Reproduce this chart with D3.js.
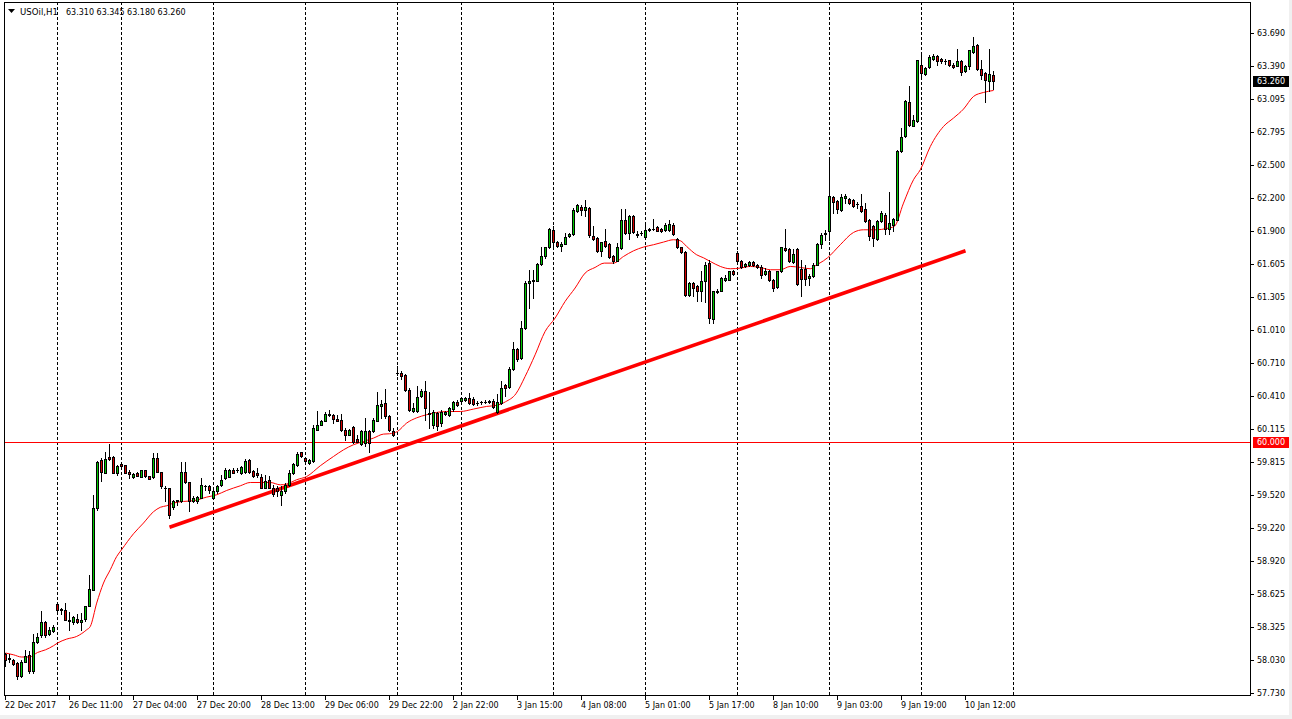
<!DOCTYPE html>
<html><head><meta charset="utf-8">
<script src="https://cdnjs.cloudflare.com/ajax/libs/d3/7.8.5/d3.min.js"></script>
<style>html,body{margin:0;padding:0;background:#fff;overflow:hidden}svg{display:block}</style>
</head><body><svg id="chart" width="1292" height="719"></svg>
<script>
const symbolTitle = "USOil,H1";
const ohlcHeader = ["63.310", "63.345", "63.180", "63.260"];

const open = [58.08,58.05,58.03,58.00,57.88,58.01,58.075,57.93,58.19,58.25,58.37,58.26,58.29,58.53,58.48,58.48,58.39,58.37,58.40,58.37,
58.40,58.52,58.66,59.40,59.83,59.72,59.86,59.857,59.72,59.797,59.785,59.73,59.68,59.72,59.685,59.74,59.692,59.685,59.852,59.725,
59.583,59.58,59.41,59.466,59.46,59.73,59.635,59.463,59.46,59.49,59.595,59.595,59.49,59.55,59.604,59.67,59.685,59.746,59.74,59.716,
59.725,59.836,59.737,59.716,59.685,59.581,59.656,59.581,59.581,59.52,59.55,59.604,59.72,59.79,59.906,59.852,59.806,59.821,60.107,60.152,
60.19,60.243,60.243,60.206,60.195,60.107,60.062,60.131,60.023,59.978,59.987,60.098,60.098,60.19,60.324,60.348,60.227,60.098,60.619,60.619,
60.604,60.462,60.279,60.279,60.408,60.453,60.261,60.152,60.258,60.168,60.252,60.243,60.294,60.354,60.363,60.372,60.393,60.384,60.348,60.354,
60.357,60.363,60.369,60.27,60.348,60.507,60.493,60.658,60.839,60.755,61.025,61.432,61.446,61.453,61.603,61.672,61.753,61.913,61.802,61.771,
61.789,61.853,61.874,62.085,62.118,62.094,62.114,61.853,61.838,61.717,61.814,61.784,61.678,61.633,61.748,62.003,61.883,62.033,61.877,61.883,
61.844,61.91,61.922,61.934,61.919,61.907,61.913,61.958,61.832,61.753,61.712,61.32,61.432,61.401,61.358,61.448,61.615,61.109,61.35,61.362,
61.462,61.462,61.543,61.703,61.633,61.582,61.591,61.621,61.591,61.576,61.513,61.537,61.462,61.392,61.537,61.748,61.739,61.621,61.739,61.56,
61.558,61.477,61.5,61.597,61.784,61.874,61.898,62.208,62.169,62.094,62.199,62.19,62.178,62.148,62.13,62.1,61.997,61.949,61.829,61.988,
62.049,61.919,61.958,62.003,62.62,62.756,63.063,62.852,62.891,63.403,63.319,63.382,63.455,63.484,63.455,63.433,63.442,63.403,63.394,63.439,
63.343,63.394,63.514,63.584,63.364,63.328,63.261,63.31];

const high = [58.09,58.08,58.04,58.01,58.03,58.12,58.11,58.26,58.27,58.47,58.38,58.33,58.34,58.535,58.50,58.54,58.46,58.425,58.44,58.45,
58.52,58.795,59.52,59.821,59.85,59.902,59.981,59.866,59.79,59.806,59.79,59.74,59.72,59.73,59.746,59.746,59.692,59.897,59.897,59.728,
59.601,59.583,59.475,59.475,59.812,59.812,59.638,59.51,59.505,59.67,59.61,59.61,59.565,59.61,59.70,59.76,59.752,59.761,59.761,59.776,
59.843,59.843,59.746,59.761,59.71,59.70,59.692,59.61,59.595,59.595,59.626,59.746,59.806,59.902,59.906,59.86,59.843,60.152,60.279,60.197,
60.267,60.288,60.249,60.243,60.249,60.122,60.116,60.137,60.062,60.107,60.209,60.107,60.213,60.444,60.378,60.475,60.243,60.122,60.685,60.634,
60.61,60.484,60.348,60.498,60.475,60.55,60.45,60.288,60.272,60.288,60.279,60.312,60.363,60.372,60.402,60.399,60.438,60.402,60.363,60.366,
60.372,60.378,60.384,60.428,60.543,60.52,60.67,60.899,60.845,61.091,61.453,61.552,61.552,61.612,61.762,61.762,61.928,61.943,61.814,61.807,
61.883,61.883,62.109,62.145,62.139,62.184,62.123,61.943,61.844,61.807,61.922,61.793,61.687,61.793,62.103,62.103,62.042,62.042,61.904,61.898,
61.974,61.928,62.012,61.943,61.928,61.974,62.003,61.974,61.838,61.762,61.717,61.441,61.441,61.416,61.537,61.624,61.642,61.362,61.38,61.491,
61.507,61.543,61.552,61.717,61.642,61.612,61.627,61.627,61.603,61.591,61.567,61.552,61.471,61.543,61.762,61.922,61.748,61.739,61.748,61.642,
61.597,61.513,61.612,61.793,61.883,61.913,62.545,62.214,62.178,62.238,62.238,62.199,62.19,62.16,62.238,62.154,62.01,61.958,62.003,62.087,
62.064,62.25,62.019,62.629,62.831,63.087,63.213,62.952,63.448,63.514,63.379,63.493,63.502,63.493,63.464,63.455,63.448,63.418,63.548,63.448,
63.403,63.539,63.653,63.593,63.442,63.334,63.545,63.345];

const low = [57.97,58.01,57.985,57.86,57.875,58.01,57.915,57.91,58.18,58.24,58.24,58.25,58.28,58.464,58.44,58.385,58.30,58.35,58.36,58.30,
58.38,58.52,58.66,59.385,59.64,59.72,59.83,59.716,59.70,59.77,59.72,59.67,59.676,59.69,59.685,59.685,59.662,59.667,59.73,59.581,
59.46,59.31,59.394,59.43,59.457,59.626,59.378,59.457,59.45,59.49,59.565,59.54,59.49,59.54,59.601,59.662,59.68,59.716,59.728,59.71,
59.716,59.716,59.685,59.68,59.581,59.581,59.581,59.51,59.51,59.43,59.54,59.595,59.71,59.782,59.86,59.821,59.80,59.812,60.107,60.146,
60.188,60.228,60.168,60.182,60.098,60.017,60.056,59.987,59.996,59.972,59.956,59.906,60.09,60.188,60.215,60.213,60.098,60.047,60.604,60.568,
60.453,60.279,60.272,60.272,60.402,60.197,60.125,60.122,60.107,60.143,60.243,60.228,60.281,60.324,60.354,60.366,60.342,60.333,60.333,60.342,
60.348,60.351,60.303,60.26,60.342,60.408,60.484,60.649,60.724,60.748,61.019,61.206,61.296,61.446,61.597,61.658,61.748,61.762,61.762,61.723,
61.784,61.847,61.868,62.078,62.049,62.033,61.844,61.823,61.712,61.672,61.762,61.658,61.612,61.627,61.742,61.874,61.832,61.883,61.844,61.868,
61.838,61.898,61.913,61.898,61.895,61.898,61.904,61.868,61.748,61.703,61.311,61.311,61.311,61.266,61.272,61.26,61.071,61.071,61.342,61.356,
61.446,61.455,61.507,61.627,61.567,61.573,61.582,61.582,61.567,61.482,61.507,61.453,61.362,61.387,61.531,61.723,61.621,61.612,61.416,61.311,
61.416,61.41,61.491,61.591,61.748,61.817,61.817,62.069,62.064,62.087,62.154,62.148,62.123,62.109,62.078,61.979,61.817,61.769,61.823,61.979,
61.877,61.877,61.898,61.997,62.611,62.75,62.852,62.846,62.886,63.292,63.313,63.373,63.442,63.403,63.418,63.409,63.394,63.373,63.388,63.313,
63.334,63.364,63.509,63.358,63.274,63.063,63.162,63.18];

const close = [58.03,58.04,57.99,57.88,58.01,58.06,57.93,58.19,58.24,58.37,58.25,58.30,58.33,58.48,58.485,58.385,58.38,58.415,58.37,58.39,
58.515,58.67,59.40,59.815,59.73,59.84,59.84,59.716,59.78,59.776,59.72,59.71,59.707,59.694,59.74,59.692,59.665,59.852,59.73,59.595,
59.58,59.34,59.46,59.469,59.73,59.635,59.46,59.49,59.496,59.61,59.597,59.559,59.55,59.60,59.656,59.746,59.746,59.72,59.741,59.767,
59.827,59.725,59.694,59.70,59.581,59.647,59.581,59.529,59.55,59.55,59.604,59.72,59.797,59.888,59.866,59.827,59.836,60.122,60.152,60.188,
60.249,60.245,60.206,60.19,60.101,60.062,60.107,59.996,60.001,60.098,60.092,59.987,60.197,60.333,60.342,60.227,60.107,60.062,60.617,60.595,
60.462,60.288,60.303,60.399,60.459,60.303,60.252,60.264,60.137,60.272,60.272,60.303,60.354,60.333,60.393,60.393,60.348,60.342,60.346,60.357,
60.355,60.36,60.312,60.36,60.484,60.484,60.658,60.839,60.748,61.025,61.432,61.453,61.462,61.603,61.678,61.753,61.919,61.807,61.771,61.789,
61.844,61.874,62.094,62.139,62.094,62.118,61.862,61.832,61.717,61.802,61.771,61.663,61.627,61.762,62.003,61.883,62.033,61.892,61.862,61.881,
61.913,61.919,61.92,61.904,61.904,61.958,61.965,61.874,61.753,61.712,61.32,61.432,61.387,61.356,61.448,61.593,61.112,61.356,61.362,61.482,
61.482,61.537,61.513,61.633,61.573,61.603,61.621,61.591,61.573,61.507,61.537,61.462,61.387,61.537,61.753,61.733,61.627,61.694,61.423,61.47,
61.471,61.5,61.597,61.784,61.868,61.883,62.214,62.16,62.1,62.208,62.214,62.154,62.13,62.145,62.087,61.988,61.853,61.838,61.988,62.064,
61.919,61.974,62.01,62.62,62.75,63.072,62.861,62.9,63.442,63.328,63.373,63.473,63.484,63.433,63.433,63.435,63.403,63.382,63.439,63.334,
63.394,63.532,63.575,63.364,63.313,63.268,63.322,63.26];

const maIndex = [0,2,4,6,8,10,12,13,15.3,17.8,20.3,21.2,22.8,24.5,26.2,27.8,29,32,34.5,37,38.7,40.3,42,44.5,47,50.3,52.8,55.3,58.7,61.2,
63.7,66.2,68.7,70.3,72.8,75.3,78.7,82,84.5,87,89.5,92,94.5,96,98,100.3,102.8,105.3,107,110.3,113.7,117,120.3,122.8,125,127.6,129.9,132.4,134.9,137.4,
139.9,142.4,144.9,147.4,149.7,152,154.5,157,159.5,162,164.5,167,168.7,170.3,172.8,174.5,176.2,178.7,181.2,183.7,186.2,188.7,191.2,193.7,196.2,198.7,201.2,202.8,204.5,205.5,
208.7,212,214.5,217.8,220.3,222.2,224.5,227,228.7,231.2,234.5,237,239.5,242,244.5,247];
const maValue = [58.091,58.075,58.055,58.055,58.096,58.12,58.157,58.181,58.217,58.241,58.301,58.331,58.542,58.723,58.843,58.963,59.023,59.168,59.265,59.367,59.407,59.421,59.445,59.46,59.466,59.499,59.52,59.559,59.601,59.631,
59.631,59.631,59.61,59.617,59.656,59.685,59.782,59.866,59.926,59.972,60.001,60.032,60.068,60.071,60.092,60.168,60.215,60.243,60.258,60.272,60.272,60.294,60.318,60.328,60.36,60.432,60.588,60.784,60.995,61.116,
61.266,61.387,61.522,61.573,61.612,61.612,61.672,61.723,61.757,61.778,61.802,61.823,61.814,61.762,61.687,61.66,61.627,61.582,61.561,61.567,61.582,61.573,61.552,61.552,61.582,61.573,61.561,61.597,61.633,61.66,
61.778,61.889,61.913,61.913,61.925,61.943,62.154,62.365,62.455,62.665,62.846,62.922,63.003,63.117,63.153,63.171];

const trendIndex = [41, 240];
const trendValue = [59.227, 61.723];
const levelValue = 60.000;
const levelLabel = "60.000";
const lastPrice = 63.260;
const lastLabel = "63.260";

const priceTicks = [63.690,63.390,63.095,62.795,62.500,62.200,61.900,61.605,61.305,61.010,60.710,60.410,60.115,59.815,59.520,59.220,58.920,58.625,58.325,58.030,57.730];
const timeTickIndex = [0,16,32,48,64,80,96,112,128,144,160,176,192,208,224,240];
const timeTickLabel = ["22 Dec 2017","26 Dec 11:00","27 Dec 04:00","27 Dec 20:00","28 Dec 13:00","29 Dec 06:00","29 Dec 22:00","2 Jan 22:00","3 Jan 15:00","4 Jan 08:00","5 Jan 01:00","5 Jan 17:00","8 Jan 10:00","9 Jan 03:00","9 Jan 19:00","10 Jan 12:00"];
const dayStartIndex = [13,29,52,75,98,114,137,160,183,206,229,252];

// ---- layout ----
const W = 1292, H = 719;
const plot = {left: 4, top: 2, right: 1250, bottom: 695};
const bullColor = "#00c800", bearColor = "#d40000", lineRed = "#ff0000";
const font = "DejaVu Sans";

const svg = d3.select("#chart");
svg.append("rect").attr("width", W).attr("height", H).attr("fill", "#f0f0f0");
svg.append("rect").attr("width", 1289).attr("height", 715).attr("fill", "#ffffff");

const x = d3.scaleLinear().domain([0, 247]).range([5, 993]);
const y = d3.scaleLinear().domain([57.73, 63.69]).range([693, 33]);
const col = i => Math.round(x(i));
const py = v => Math.round(y(v)) + 0.5;

svg.append("defs").append("clipPath").attr("id", "clip")
  .append("rect").attr("x", plot.left + 1).attr("y", plot.top + 1)
  .attr("width", plot.right - plot.left - 1).attr("height", plot.bottom - plot.top - 1);

const g = svg.append("g").attr("clip-path", "url(#clip)");

// vertical dashed grid at day starts
g.selectAll("line.grid").data(dayStartIndex).join("line")
  .attr("x1", d => col(d) + 0.5).attr("x2", d => col(d) + 0.5)
  .attr("y1", plot.top).attr("y2", plot.bottom)
  .attr("stroke", "#000").attr("stroke-width", 1).attr("stroke-dasharray", "3,2")
  .attr("shape-rendering", "crispEdges");

// 60.000 level line
g.append("line").attr("x1", plot.left).attr("x2", plot.right)
  .attr("y1", py(levelValue)).attr("y2", py(levelValue))
  .attr("stroke", lineRed).attr("stroke-width", 1).attr("shape-rendering", "crispEdges");

// moving average
const maPts = maIndex.map((d, k) => [x(d) + 0.5, y(maValue[k])]);
g.append("path").attr("d", d3.line().curve(d3.curveMonotoneX)(maPts))
  .attr("fill", "none").attr("stroke", lineRed).attr("stroke-width", 1);

// trend line
g.append("line")
  .attr("x1", x(trendIndex[0]) + 0.5).attr("y1", y(trendValue[0]))
  .attr("x2", x(trendIndex[1]) + 0.5).attr("y2", y(trendValue[1]))
  .attr("stroke", lineRed).attr("stroke-width", 3.6);

// candles
const idx = d3.range(open.length);
const cg = g.append("g").attr("shape-rendering", "crispEdges");
cg.selectAll("line.wick").data(idx).join("line")
  .attr("x1", i => col(i) + 0.5).attr("x2", i => col(i) + 0.5)
  .attr("y1", i => Math.round(y(high[i]))).attr("y2", i => Math.round(y(low[i])) + 1)
  .attr("stroke", "#000").attr("stroke-width", 1);
idx.forEach(i => {
  const yo = Math.round(y(open[i])), yc = Math.round(y(close[i]));
  const t = Math.min(yo, yc), b = Math.max(yo, yc);
  const c = col(i);
  if (b - t < 1) {
    cg.append("line").attr("x1", c - 1).attr("x2", c + 2)
      .attr("y1", t + 0.5).attr("y2", t + 0.5).attr("stroke", "#000").attr("stroke-width", 1);
  } else {
    cg.append("rect").attr("x", c - 0.5).attr("y", t + 0.5)
      .attr("width", 2).attr("height", b - t)
      .attr("fill", close[i] >= open[i] ? bullColor : bearColor)
      .attr("stroke", "#000").attr("stroke-width", 1);
  }
});

// frame
svg.append("rect").attr("x", plot.left + 0.5).attr("y", plot.top + 0.5)
  .attr("width", plot.right - plot.left).attr("height", plot.bottom - plot.top)
  .attr("fill", "none").attr("stroke", "#000").attr("stroke-width", 1)
  .attr("shape-rendering", "crispEdges");

// price axis
const pa = svg.append("g").attr("font-family", font).attr("font-size", "8px").attr("fill", "#000");
pa.selectAll("line").data(priceTicks).join("line")
  .attr("x1", plot.right).attr("x2", plot.right + 4)
  .attr("y1", d => py(d)).attr("y2", d => py(d))
  .attr("stroke", "#000").attr("shape-rendering", "crispEdges");
pa.selectAll("text").data(priceTicks).join("text")
  .attr("x", plot.right + 7).attr("y", d => py(d)).attr("dy", "0.36em")
  .text(d => d.toFixed(3));

function priceBox(v, label, bg) {
  const yy = Math.round(y(v));
  svg.append("rect").attr("x", plot.right + 3).attr("y", yy - 5).attr("width", 36).attr("height", 11)
    .attr("fill", bg).attr("shape-rendering", "crispEdges");
  svg.append("text").attr("x", plot.right + 7).attr("y", yy + 0.5).attr("dy", "0.36em")
    .attr("font-family", font).attr("font-size", "8px").attr("fill", "#fff").text(label);
}
priceBox(lastPrice, lastLabel, "#000");
priceBox(levelValue, levelLabel, "#ff0000");

// time axis
const ta = svg.append("g").attr("font-family", font).attr("font-size", "8px").attr("fill", "#000");
ta.selectAll("line").data(timeTickIndex).join("line")
  .attr("x1", d => col(d) + 0.5).attr("x2", d => col(d) + 0.5)
  .attr("y1", plot.bottom).attr("y2", plot.bottom + 5)
  .attr("stroke", "#000").attr("shape-rendering", "crispEdges");
ta.selectAll("text").data(timeTickIndex).join("text")
  .attr("x", d => col(d)).attr("y", 708)
  .text((d, k) => timeTickLabel[k]);

// header
svg.append("path").attr("d", "M8,9 L15,9 L11.5,13 Z").attr("fill", "#000");
svg.append("text").attr("x", 20).attr("y", 15).attr("font-family", font).attr("font-size", "8.6px")
  .attr("fill", "#000").text(symbolTitle);
svg.append("text").attr("x", 66).attr("y", 15).attr("font-family", font).attr("font-size", "8px")
  .attr("fill", "#000").text(ohlcHeader.join(" "));
</script>
</body></html>
